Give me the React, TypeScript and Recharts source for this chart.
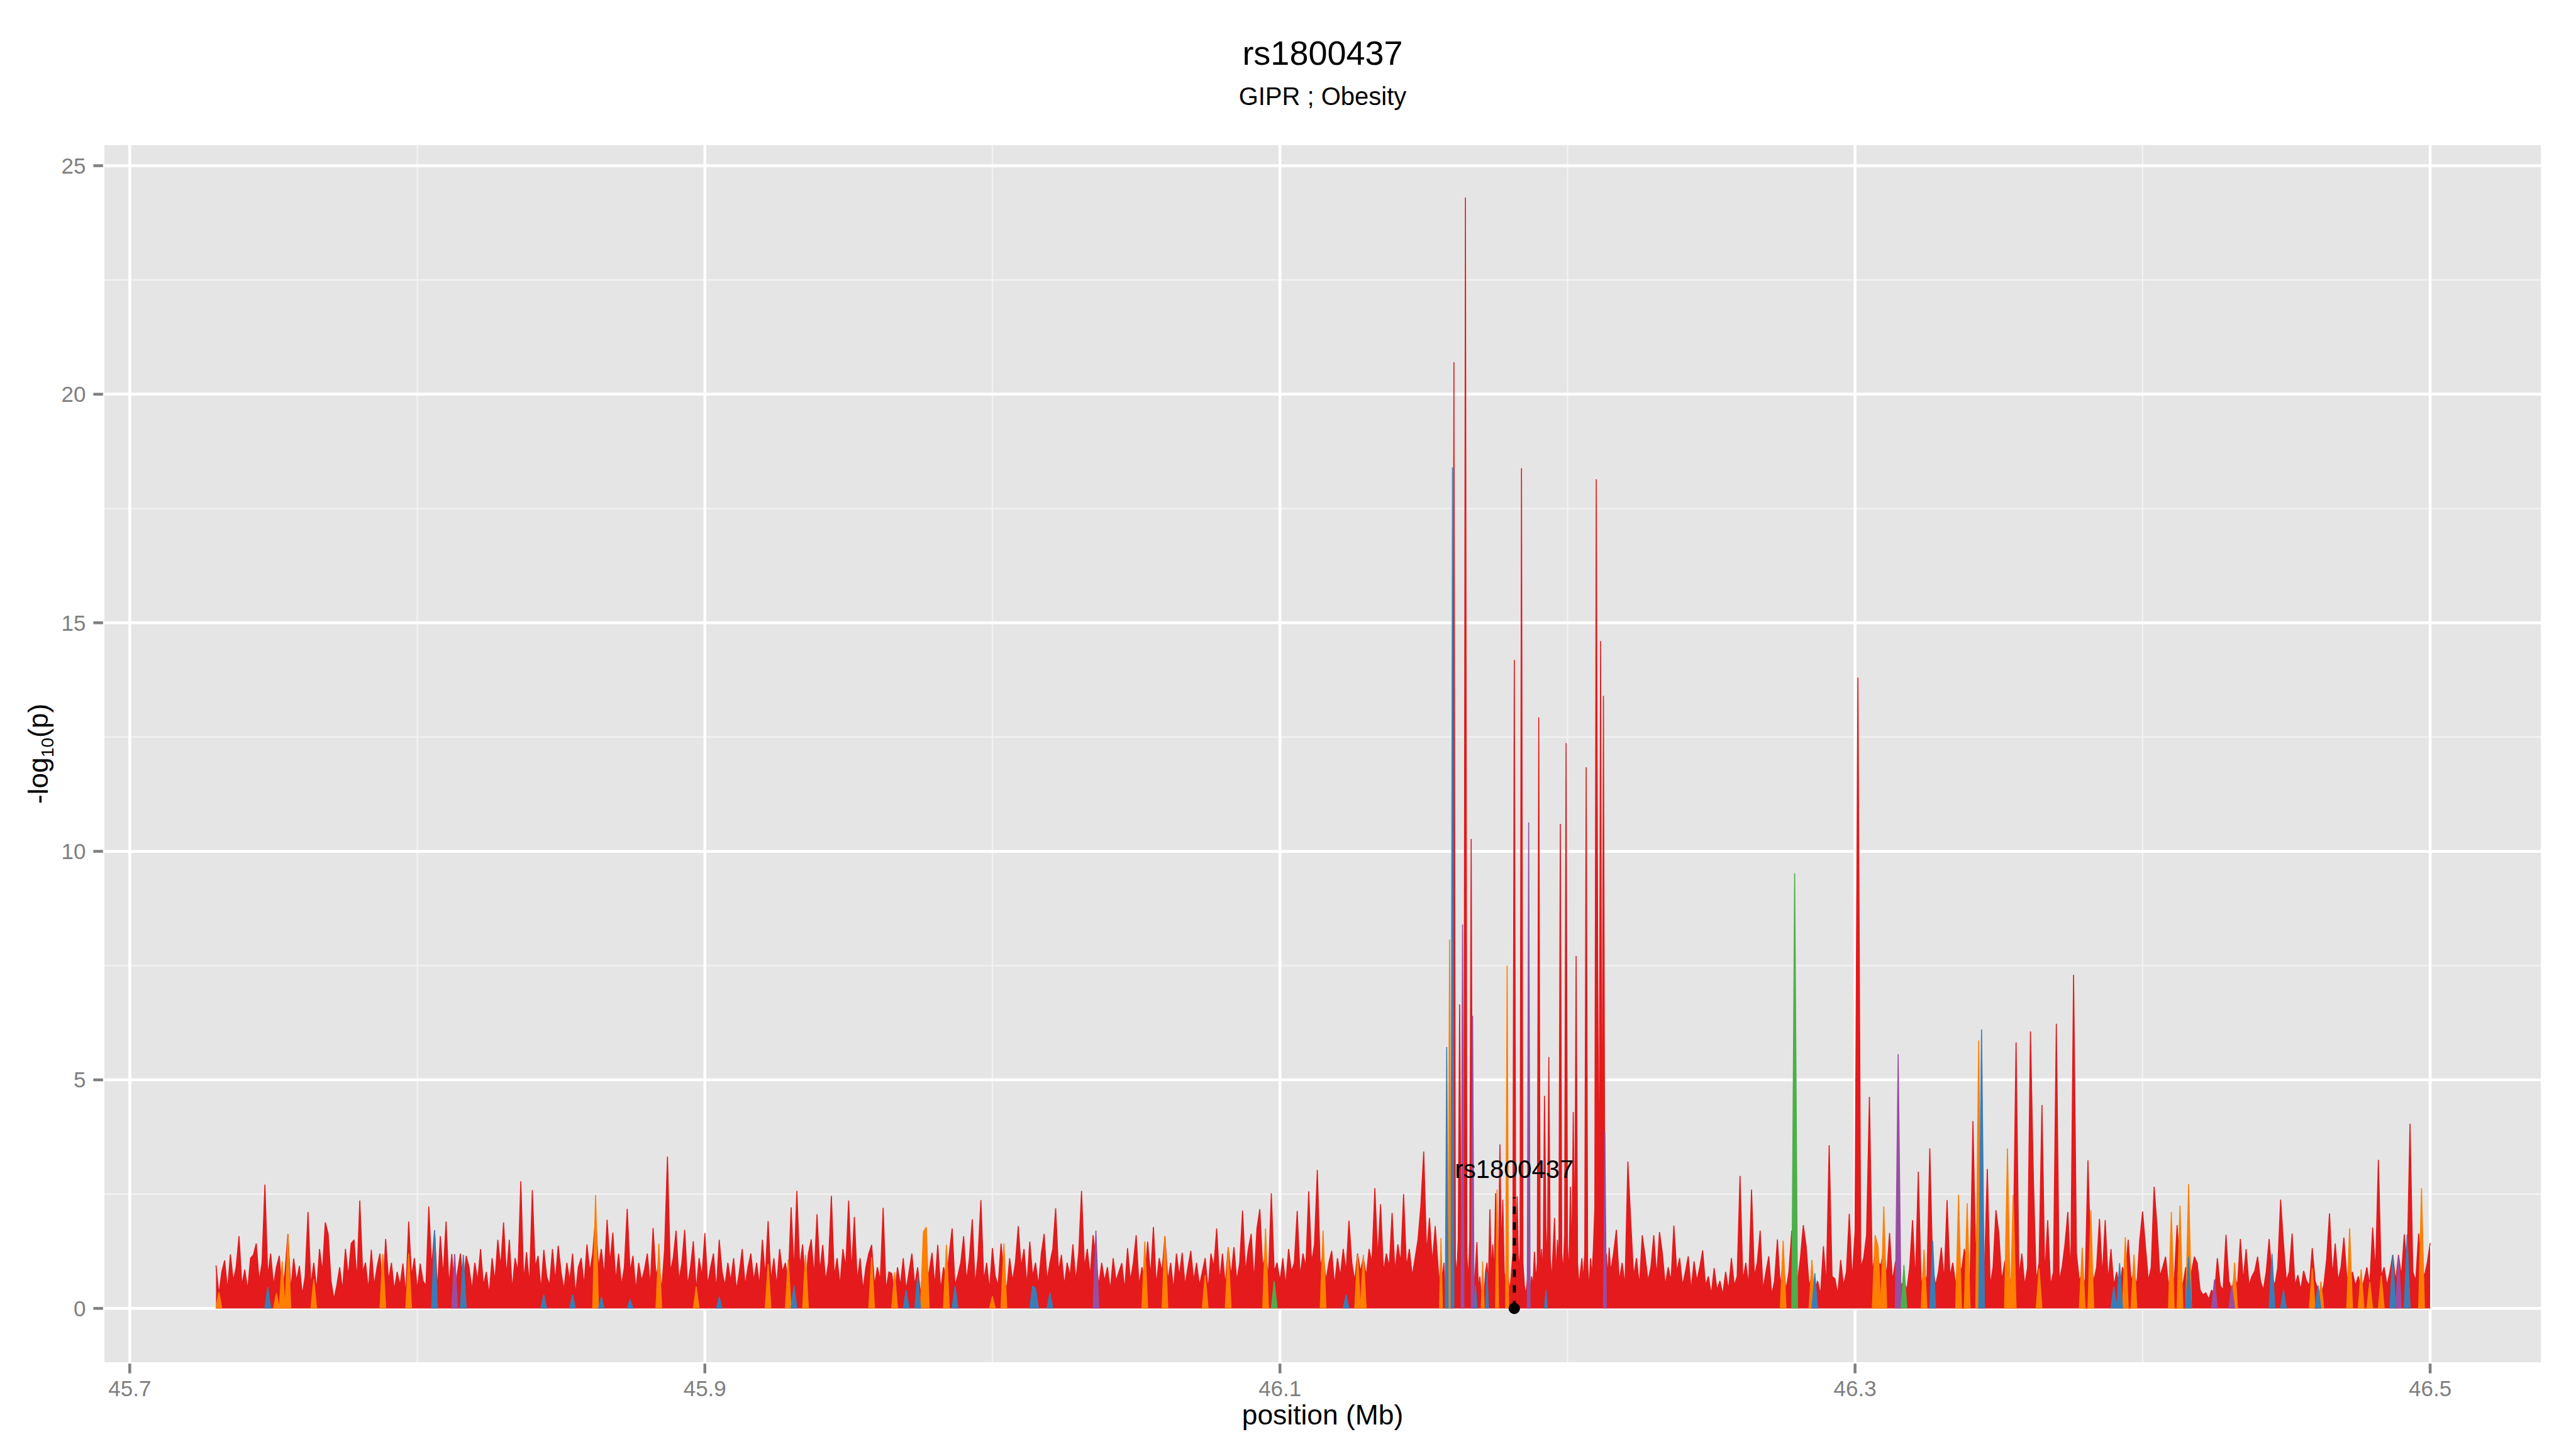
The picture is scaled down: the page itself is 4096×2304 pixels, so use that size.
import React from "react";
import {
  ComposedChart,
  Area,
  XAxis,
  YAxis,
  CartesianGrid,
  ReferenceLine,
  ReferenceDot,
} from "recharts";

const W = 4096;
const H = 2304;
const FONT = '"Liberation Sans", Arial, Helvetica, sans-serif';
const GREY = "#7F7F7F";

const title = "rs1800437";
const subtitle = "GIPR ; Obesity";
const xTitle = "position (Mb)";

const xTicks = [45.7, 45.9, 46.1, 46.3, 46.5];
const xMinor = [45.8, 46.0, 46.2, 46.4];
const yTicks = [0, 5, 10, 15, 20, 25];
const yMinor = [2.5, 7.5, 12.5, 17.5, 22.5];

// index SNP marker
const snpName = "rs1800437";
const snpPos = 46.1815;
const snpLineTop = 2.43;
const snpLabelY = 3.05;

// red bin, 45.730 .. 46.154 Mb, one value per kb
const redA = [
  0.94, 0.3, 0.8, 1.05, 0.4, 1.18, 0.6, 0.9, 1.58, 0.5,
  0.85, 0.4, 1.1, 1.17, 1.42, 0.6, 1.0, 2.71, 0.7, 1.2,
  0.5, 0.9, 1.15, 0.3, 0.8, 1.63, 0.4, 1.09, 0.6, 0.93,
  0.3, 0.7, 2.11, 0.5, 1.0, 0.4, 1.3, 0.8, 1.88, 1.63,
  0.6, 0.2, 0.5, 0.9, 0.4, 1.3, 0.7, 1.42, 1.5, 0.6,
  2.36, 0.8, 1.0, 0.4, 1.28, 0.5, 0.9, 1.2, 0.3, 1.52,
  0.6, 1.0, 0.4, 0.8, 0.5, 0.98, 0.3, 1.9, 0.7, 1.1,
  0.4, 0.98, 0.6, 0.5, 2.23, 0.9, 1.71, 0.4, 1.58, 0.7,
  1.9, 0.5, 1.19, 0.3, 0.8, 1.2, 0.5, 1.15, 0.9, 0.4,
  1.0, 0.6, 1.3, 0.5, 0.8, 0.3, 1.1, 0.6, 1.5, 0.9,
  1.88, 0.7, 1.5, 0.4, 1.1, 0.8, 2.78, 0.6, 1.23, 0.5,
  2.59, 0.9, 1.15, 0.4, 1.28, 0.7, 0.5, 1.3, 0.6, 1.37,
  0.8, 0.4, 1.0, 0.6, 1.2, 0.3, 0.9, 1.1, 0.5, 1.4,
  0.8, 1.2, 2.0, 0.9, 1.3, 0.7, 1.94, 1.0, 1.66, 0.6,
  1.2, 0.5, 0.9, 2.18, 0.8, 1.15, 0.4, 1.0, 0.6, 0.85,
  1.2, 0.5, 1.76, 0.7, 1.0, 0.4, 1.3, 3.32, 0.8, 1.1,
  1.7, 0.6, 1.0, 1.72, 0.5, 0.9, 1.47, 0.4, 1.1, 0.7,
  1.65, 0.5, 0.9, 1.2, 0.4, 1.5, 0.8, 0.5, 1.0, 0.6,
  1.1, 0.4, 0.8, 1.3, 0.5, 0.9, 1.2, 0.6, 1.0, 0.5,
  1.5, 0.7, 1.91, 0.6, 1.1, 0.5, 1.3, 0.8, 1.0, 0.6,
  2.21, 0.8, 2.57, 0.9, 1.4, 0.5, 1.2, 1.51, 0.7, 2.06,
  0.8, 1.39, 0.6, 1.0, 2.46, 0.7, 1.1, 0.5, 1.3, 0.9,
  2.36, 0.8, 2.0, 0.6, 1.1, 0.4, 0.9, 1.2, 1.39, 0.5,
  0.9, 0.6, 2.2, 0.4, 0.8, 0.76, 0.3, 0.9, 0.5, 1.1,
  0.4, 0.8, 1.2, 0.5, 0.9, 0.3, 1.0, 0.6, 0.8, 1.22,
  0.5, 1.39, 0.4, 0.9, 0.6, 1.2, 1.75, 0.5, 0.73, 1.0,
  1.58, 0.6, 1.1, 1.95, 0.5, 1.14, 2.37, 0.6, 1.0, 0.4,
  1.32, 0.7, 0.5, 1.42, 0.8, 0.4, 1.1, 0.6, 1.0, 1.8,
  0.9, 1.3, 0.5, 1.46, 0.7, 1.0, 0.5, 1.2, 1.63, 0.6,
  1.0, 1.3, 2.19, 0.8, 1.17, 0.5, 1.0, 0.7, 1.4, 0.6,
  1.2, 2.57, 0.9, 1.3, 0.7, 1.6, 1.1, 0.5, 1.0, 0.6,
  0.9, 0.4, 1.1, 0.6, 0.8, 0.99, 0.4, 1.32, 0.6, 1.0,
  1.6, 0.5, 0.9, 0.6, 1.46, 0.7, 1.78, 0.5, 1.1, 0.8,
  1.58, 0.6, 1.0, 0.4, 1.2, 0.7, 1.22, 0.5, 0.9, 1.26,
  0.6, 1.0, 0.5, 0.8, 1.1, 0.4, 1.2, 0.9, 1.75, 0.6,
  1.2, 0.5, 1.34, 0.7, 1.34, 0.6, 1.0, 2.14, 0.8, 1.3,
  1.63, 0.6, 1.75, 2.17, 0.9, 1.2, 0.7, 2.52, 0.8, 1.0,
  0.6, 1.1, 0.5, 1.3, 0.8, 1.0, 2.13, 0.7, 1.2, 0.9,
  2.56, 1.0, 1.4, 3.03, 0.9, 1.2, 0.6, 1.0, 1.26, 0.5,
  1.1, 0.7, 1.3, 0.8, 1.92, 1.0, 0.6, 1.2, 0.8, 1.1,
  0.7, 1.3, 1.0, 2.63, 1.1, 2.28, 0.8, 1.2, 0.9, 2.09,
  0.8, 1.4, 1.0, 2.5, 0.9, 1.3, 0.7, 1.1, 1.5, 2.24,
  3.43, 1.2, 1.98, 1.0, 1.8,
];

// red bin, 46.155 .. 46.2145 Mb (peak cluster), one value per 0.5 kb
const redB = [
  0.9, 0.5, 1.2, 0.6, 1.0, 0.4, 1.3, 0.5, 1.4, 0.8,
  1.6, 20.7, 1.1, 0.7, 1.5, 6.65, 0.9, 1.4, 2.0, 24.3,
  1.2, 0.6, 1.5, 10.27, 0.8, 0.5, 0.9, 1.45, 0.4, 0.7,
  0.3, 0.5, 0.3, 0.8, 1.0, 0.5, 2.17, 0.8, 1.4, 0.7,
  2.52, 1.1, 0.9, 3.59, 1.2, 2.38, 0.8, 0.5, 1.0, 0.6,
  0.4, 0.8, 1.2, 14.19, 1.0, 2.45, 0.8, 1.2, 18.38, 1.0,
  0.5, 0.3, 0.6, 0.9, 0.4, 0.7, 0.5, 1.24, 0.6, 1.0,
  12.93, 0.8, 1.3, 0.7, 4.65, 1.77, 0.9, 5.5, 1.1, 0.6,
  1.3, 1.98, 0.7, 1.5, 1.0, 10.6, 1.2, 0.8, 1.6, 12.37,
  1.4, 0.7, 2.66, 1.0, 4.3, 1.2, 7.71, 1.0, 0.5, 0.8,
  1.1, 0.6, 1.2, 11.84, 1.0, 0.4, 1.1, 0.7, 1.3, 2.2,
  18.14, 7.5, 1.5, 14.6, 1.2, 13.4, 0.9, 1.2, 0.7, 1.33,
];

// red bin, 46.215 .. 46.500 Mb, one value per kb
const redC = [
  0.8, 1.2, 1.72, 0.6, 1.0, 0.5, 3.21, 1.9, 0.7, 1.1,
  0.5, 1.6, 1.14, 0.6, 0.9, 1.6, 0.7, 1.67, 1.2, 0.5,
  0.9, 0.6, 1.81, 0.8, 1.1, 0.5, 0.8, 1.14, 0.4, 1.03,
  0.6, 0.9, 1.27, 0.5, 0.7, 0.3, 0.88, 0.4, 0.6, 0.3,
  0.8, 0.4, 1.1, 0.5, 0.7, 2.9, 0.6, 1.0, 0.5, 2.6,
  0.7, 1.0, 1.7, 0.4, 0.8, 1.14, 0.3, 0.6, 1.51, 0.5,
  1.0, 0.4, 0.8, 1.7, 0.9, 0.6, 1.1, 1.82, 1.36, 0.5,
  0.7, 0.4, 0.6, 0.3, 1.36, 0.5, 3.57, 0.7, 0.65, 0.3,
  1.06, 0.5, 0.8, 2.07, 0.6, 1.7, 13.8, 0.9, 1.1, 1.6,
  4.63, 0.8, 1.2, 1.0, 0.95, 1.3, 0.7, 1.65, 0.6, 1.0,
  1.2, 0.5, 0.6, 0.4, 0.9, 1.93, 0.6, 2.99, 0.5, 0.8,
  0.6, 3.5, 0.9, 0.5, 0.8, 1.33, 0.6, 2.37, 0.7, 1.0,
  0.5, 1.1, 0.8, 1.3, 0.9, 0.6, 4.1, 1.0, 3.0, 1.2,
  0.8, 3.05, 0.5, 0.9, 2.15, 1.65, 0.6, 1.0, 1.2, 0.5,
  1.1, 5.82, 0.7, 1.2, 0.5, 0.9, 6.06, 2.9, 0.6, 1.0,
  4.45, 0.7, 1.93, 0.5, 0.8, 6.23, 0.6, 0.9, 1.4, 2.11,
  0.7, 7.3, 1.2, 0.6, 0.8, 0.5, 3.24, 1.0, 0.6, 0.9,
  1.96, 0.7, 1.93, 0.6, 1.3, 0.5, 0.8, 0.4, 0.9, 0.7,
  1.5, 0.6, 0.8, 0.5, 1.49, 2.12, 1.36, 0.6, 0.9, 2.66,
  1.82, 0.7, 0.9, 1.13, 0.5, 0.8, 0.6, 1.82, 0.7, 0.5,
  0.9, 0.6, 0.8, 1.13, 0.99, 0.4, 0.3, 0.34, 0.2, 0.4,
  0.3, 1.1, 0.5, 0.4, 1.61, 0.6, 0.4, 0.7, 0.5, 1.52,
  0.6, 1.3, 0.5, 0.7, 0.82, 1.13, 0.6, 0.4, 0.8, 1.52,
  0.7, 0.5, 0.9, 2.38, 1.42, 0.6, 0.8, 1.64, 0.5, 0.73,
  0.4, 0.82, 0.6, 0.5, 1.32, 0.6, 0.4, 0.3, 0.5, 1.07,
  2.08, 0.7, 1.42, 0.6, 0.9, 1.55, 0.7, 0.6, 0.8, 0.5,
  0.7, 0.4, 0.6, 0.9, 0.5, 1.77, 0.8, 3.25, 0.7, 0.9,
  0.5, 0.8, 1.17, 0.6, 1.17, 0.7, 1.62, 0.9, 4.04, 0.8,
  0.6, 1.64, 0.9, 0.7, 1.0, 1.43,
];

const segments = [
  { start: 45.73, step: 0.001, values: redA },
  { start: 46.155, step: 0.0005, values: redB },
  { start: 46.215, step: 0.001, values: redC },
];

// other LD bins: [position (Mb), -log10(p)]
const orangePts: [number, number][] = [
  [45.7315, 0.36], [45.7505, 0.33], [45.7531, 1.03], [45.7546, 1.62], [45.7639, 0.63],
  [45.7883, 1.19], [45.7965, 1.2], [45.8618, 2.48], [45.8843, 1.42], [45.8968, 0.48],
  [45.9218, 0.97], [45.9287, 1.07], [45.9353, 1.17], [45.9583, 1.12], [45.966, 0.79],
  [45.9761, 1.67], [45.9772, 1.78], [45.984, 1.39], [46.0002, 0.27], [46.0037, 1.42],
  [46.0534, 1.46], [46.0605, 1.58], [46.0738, 0.73], [46.0819, 1.34], [46.0952, 1.75],
  [46.1149, 1.7], [46.1271, 1.17], [46.1285, 1.17], [46.1562, 1.54], [46.1588, 8.07],
  [46.1704, 1.03], [46.1757, 2.6], [46.179, 7.5], [46.2752, 1.48], [46.2848, 1.06],
  [46.3073, 1.6], [46.3083, 1.36], [46.3105, 2.23], [46.3243, 1.29], [46.3362, 2.49],
  [46.3394, 2.3], [46.3429, 5.86], [46.3535, 3.5], [46.3551, 2.49], [46.3643, 0.88],
  [46.3787, 1.33], [46.3819, 2.15], [46.3941, 1.56], [46.3974, 1.18], [46.41, 2.11],
  [46.4133, 2.25], [46.4156, 2.72], [46.432, 1.0], [46.4586, 0.88], [46.4623, 0.59],
  [46.4721, 1.75], [46.4758, 0.85], [46.4789, 0.58], [46.4826, 0.72], [46.4925, 1.0],
  [46.4974, 2.63],
];

const bluePts: [number, number][] = [
  [45.7476, 0.47], [45.806, 1.71], [45.8159, 1.17], [45.8443, 0.3], [45.8541, 0.3],
  [45.8638, 0.25], [45.8743, 0.2], [45.905, 0.25], [45.931, 0.5], [45.9699, 0.4],
  [45.9743, 0.7], [45.9874, 0.49], [46.0143, 0.49], [46.0153, 0.44], [46.0202, 0.34],
  [46.1235, 0.3], [46.1579, 5.72], [46.16, 18.4], [46.1682, 0.5], [46.1718, 0.8],
  [46.1924, 0.4], [46.2863, 0.77], [46.3272, 1.48], [46.3444, 6.1], [46.3903, 0.48],
  [46.3918, 0.99], [46.4165, 1.13], [46.4446, 1.2], [46.4492, 0.4], [46.4605, 0.5],
  [46.4866, 1.17], [46.4916, 1.62],
];

const purplePts: [number, number][] = [
  [45.8132, 1.19], [46.0363, 1.7], [46.1637, 8.4], [46.167, 6.4], [46.1867, 10.63],
  [46.2129, 3.87], [46.3148, 5.56], [46.4245, 0.63], [46.4312, 0.5], [46.4893, 1.15],
];

const greenPts: [number, number][] = [
  [46.0984, 0.6], [46.2793, 9.52], [46.3166, 0.95],
];

const series = [
  { key: "red", color: "#E41A1C" },
  { key: "orange", color: "#FF7F00" },
  { key: "blue", color: "#377EB8" },
  { key: "purple", color: "#984EA3" },
  { key: "green", color: "#4DAF4A" },
];

type Row = { pos: number; [k: string]: number | null };

const rows: Row[] = [];
segments.forEach((s) =>
  s.values.forEach((v, i) =>
    rows.push({
      pos: +(s.start + i * s.step).toFixed(4),
      red: v,
      orange: null,
      blue: null,
      purple: null,
      green: null,
    })
  )
);

// snap each point onto the nearest sampled position; its neighbours drop to 0
function place(key: string, pts: [number, number][]) {
  pts.forEach(([p, v]) => {
    let best = 0;
    for (let i = 1; i < rows.length; i++) {
      if (Math.abs(rows[i].pos - p) < Math.abs(rows[best].pos - p)) best = i;
    }
    rows[best][key] = Math.max((rows[best][key] as number) || 0, v);
    [best - 1, best + 1].forEach((n) => {
      if (rows[n] && rows[n][key] == null) rows[n][key] = 0;
    });
  });
}
place("orange", orangePts);
place("blue", bluePts);
place("purple", purplePts);
place("green", greenPts);

const tickStyle = { fill: GREY, fontSize: 35, fontFamily: FONT };

export default function App() {
  return (
    <div
      style={{
        position: "absolute",
        left: 0,
        top: 0,
        width: W,
        height: H,
        background: "#fff",
      }}
    >
      <ComposedChart
        width={W}
        height={H}
        data={rows}
        margin={{ top: 228.6, right: 53.6, bottom: 55.7, left: 43.8 }}
      >
        <CartesianGrid
          fill="#E5E5E5"
          stroke="#F2F2F2"
          strokeWidth={2.3}
          horizontalValues={yMinor}
          verticalValues={xMinor}
        />
        <CartesianGrid stroke="#FFFFFF" strokeWidth={4.5} />
        <XAxis
          type="number"
          dataKey="pos"
          domain={[45.6907, 46.539]}
          allowDataOverflow
          ticks={xTicks}
          interval={0}
          height={80}
          tickSize={15.4}
          tickMargin={11}
          axisLine={false}
          tickLine={{ stroke: GREY, strokeWidth: 4.5 }}
          tick={tickStyle}
        />
        <YAxis
          type="number"
          domain={[-1.209, 25.48]}
          allowDataOverflow
          ticks={yTicks}
          interval={0}
          width={120}
          tickSize={15.4}
          tickMargin={12}
          axisLine={false}
          tickLine={{ stroke: GREY, strokeWidth: 4.5 }}
          tick={tickStyle}
        />
        {series.map((s) => (
          <Area
            key={s.key}
            dataKey={s.key}
            type="linear"
            fill={s.color}
            fillOpacity={1}
            stroke={s.color}
            strokeWidth={1.6}
            strokeLinejoin="bevel"
            baseValue={0}
            connectNulls={false}
            dot={false}
            activeDot={false}
            isAnimationActive={false}
          />
        ))}
        <ReferenceLine
          segment={[
            { x: snpPos, y: 0 },
            { x: snpPos, y: snpLineTop },
          ]}
          stroke="#000"
          strokeWidth={4.9}
          strokeDasharray="12 13"
        />
        <ReferenceDot x={snpPos} y={0} r={9} fill="#000" stroke="none" />
        <ReferenceDot
          x={snpPos}
          y={snpLabelY}
          r={0}
          fill="none"
          stroke="none"
          label={{
            value: snpName,
            position: "center",
            fill: "#000",
            fontSize: 40,
            fontFamily: FONT,
          }}
        />
      </ComposedChart>
      <svg
        width={W}
        height={H}
        style={{ position: "absolute", left: 0, top: 0, pointerEvents: "none" }}
      >
        <text x={2103} y={102.8} textAnchor="middle" fontSize={54} fontFamily={FONT} fill="#000">
          {title}
        </text>
        <text x={2103} y={167.2} textAnchor="middle" fontSize={40} fontFamily={FONT} fill="#000">
          {subtitle}
        </text>
        <text x={2103} y={2265} textAnchor="middle" fontSize={44.4} fontFamily={FONT} fill="#000">
          {xTitle}
        </text>
        <text
          transform="translate(76.3,1198.5) rotate(-90)"
          textAnchor="middle"
          fontSize={44.4}
          fontFamily={FONT}
          fill="#000"
        >
          -log
          <tspan fontSize={28} dy={9}>
            10
          </tspan>
          <tspan dy={-9}>(p)</tspan>
        </text>
      </svg>
    </div>
  );
}
